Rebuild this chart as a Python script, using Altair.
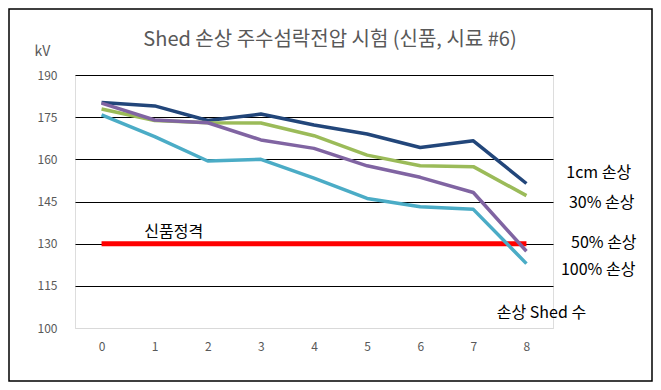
import altair as alt
import pandas as pd

# ---- data ----
shed_count = [0, 1, 2, 3, 4, 5, 6, 7, 8]
series_names = ["1cm 손상", "30% 손상", "50% 손상", "100% 손상"]
v_1cm = [180.2, 179.0, 173.8, 176.1, 172.2, 169.0, 164.2, 166.6, 151.4]
v_30 = [177.9, 173.8, 173.0, 172.9, 168.4, 161.5, 157.7, 157.4, 147.1]
v_50 = [180.0, 174.0, 173.0, 166.9, 163.9, 157.7, 153.6, 148.2, 127.3]
v_100 = [175.8, 168.1, 159.4, 160.0, 153.3, 146.1, 143.1, 142.2, 122.9]
series_colors = ["#22467A", "#9BBB59", "#8064A2", "#4BACC6"]
rated_value = 130
rated_label = "신품정격"
y_ticks = [100, 115, 130, 145, 160, 175, 190]

# annotation anchors (data coordinates)
label_x = [8.75, 8.80, 8.84, 8.65]
label_y = [155.1, 144.5, 130.2, 120.6]
rated_label_x = 1.36
rated_label_y = 134.1

FONT = "Noto Sans CJK KR"
W, H = 478, 253

xscale = alt.Scale(domain=[-0.5, 8.5], nice=False, zero=False)
yscale = alt.Scale(domain=[100, 190], nice=False, zero=False)

base_axes = alt.Chart(pd.DataFrame({"x": shed_count, "y": [100] * 9})).mark_point(opacity=0).encode(
    x=alt.X("x:Q", scale=xscale,
            axis=alt.Axis(values=shed_count, grid=False, ticks=False, domain=True,
                          domainColor="#D9D9D9", domainWidth=1, labelColor="#595959",
                          labelFontSize=12, labelPadding=13, labelFont=FONT,
                          title="손상 Shed 수", titleFont=FONT, titleFontSize=16,
                          titleFontWeight="normal", titleColor="black",
                          titleX=466, titleY=-16, titleAlign="center",
                          titleBaseline="middle", titleAnchor="start")),
    y=alt.Y("y:Q", scale=yscale,
            axis=alt.Axis(values=y_ticks, grid=True,
                          gridColor={"condition": {"test": "datum.value === 100", "value": "#D9D9D9"}, "value": "black"},
                          gridWidth=1, ticks=False, domain=False,
                          labelColor="#595959", labelFontSize=12, labelPadding=18, labelFont=FONT,
                          title="kV", titleAngle=0, titleFont=FONT, titleFontSize=14,
                          titleFontWeight="normal", titleColor="#595959",
                          titleX=-33, titleY=-24, titleAlign="center",
                          titleBaseline="middle", titleAnchor="start")),
)

rated_df = pd.DataFrame({"x": [shed_count[0]], "x2": [shed_count[-1]], "y": [rated_value]})
rated = alt.Chart(rated_df).mark_rule(color="#FF0000", strokeWidth=5).encode(
    x=alt.X("x:Q", scale=xscale), x2="x2:Q", y=alt.Y("y:Q", scale=yscale)
)

layers = [base_axes, rated]
for name, vals, col in zip(series_names, [v_1cm, v_30, v_50, v_100], series_colors):
    df = pd.DataFrame({"x": shed_count, "y": vals})
    layers.append(
        alt.Chart(df).mark_line(color=col, strokeWidth=3.5, strokeJoin="round").encode(
            x=alt.X("x:Q", scale=xscale), y=alt.Y("y:Q", scale=yscale)
        )
    )

labels_df = pd.DataFrame({"t": series_names, "x": label_x, "y": label_y})
labels = alt.Chart(labels_df).mark_text(align="left", baseline="middle", font=FONT,
                                        fontSize=16, color="black").encode(
    x=alt.X("x:Q", scale=xscale), y=alt.Y("y:Q", scale=yscale), text="t:N"
)
rated_txt = alt.Chart(pd.DataFrame({"t": [rated_label], "x": [rated_label_x], "y": [rated_label_y]})).mark_text(
    align="center", baseline="middle", font=FONT, fontSize=16, color="black").encode(
    x=alt.X("x:Q", scale=xscale), y=alt.Y("y:Q", scale=yscale), text="t:N"
)

border = alt.Chart(pd.DataFrame({"a": [0]})).mark_rect(
    fillOpacity=0, stroke="black", strokeWidth=1.5).encode(
    x=alt.value(-66), x2=alt.value(577), y=alt.value(-66), y2=alt.value(306)
)

chart = alt.layer(*layers, labels, rated_txt, border).properties(
    width=W, height=H,
    autosize=alt.AutoSizeParams(type="none"),
    padding={"left": 67, "top": 67, "right": 100, "bottom": 54},
    title=alt.TitleParams(text="Shed 손상 주수섬락전압 시험 (신품, 시료 #6)", font=FONT,
                          fontSize=20, fontWeight="normal", color="#595959",
                          anchor="middle", dx=16, offset=0, dy=42),
).configure_view(stroke=None).configure(background="white")

chart.save("out.html", embed_options={"renderer": "svg", "actions": False})
